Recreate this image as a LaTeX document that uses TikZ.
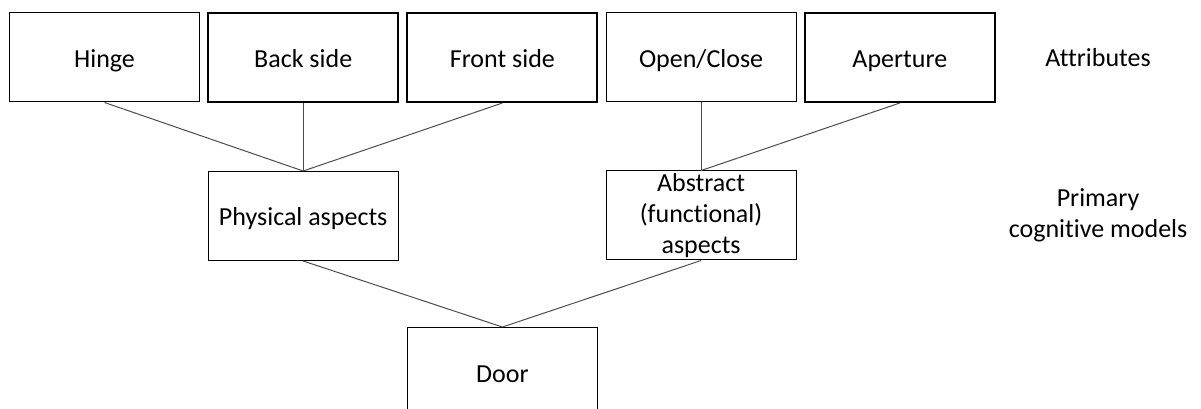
\documentclass[tikz,border=0pt]{standalone}
\usepackage{fontspec}
\setmainfont{Carlito}[Ligatures=NoCommon]
\usetikzlibrary{positioning}

\begin{document}
\begin{tikzpicture}[
    x=0.75pt, y=-0.75pt,
    node distance=51pt and 5.4pt,
    font=\fontsize{19.5}{23.4}\selectfont,
    % --- Style Definitions ---
    box/.style={
        rectangle, draw=black, line width=0.75pt,
        minimum width=142.5pt, minimum height=66.75pt,
        inner sep=0pt, align=center
    },
    onebox/.style={box, text height=15pt, text depth=0pt},
    thickbox/.style={onebox, line width=1.5pt},
    tag/.style={inner sep=0pt, align=center},
    link/.style={draw=black!70, line width=0.75pt}
]
\useasboundingbox (0,0) rectangle (1201,409);

% ================= Attributes =================
\node[onebox] (hinge) at (104.5,57.5) {Hinge};
\node[thickbox, right=of hinge] (back) {Back side};
\node[thickbox, right=of back] (front) {Front side};
\node[onebox, right=of front] (openclose) {Open/Close};
\node[thickbox, right=of openclose] (aperture) {Aperture};

% ================= Primary cognitive models =================
\node[onebox, below=of back] (physical) {Physical aspects};
\node[box, below=of openclose] (abstract) {Abstract\\(functional)\\aspects};

% ================= Door =================
\node[onebox, anchor=north] (door) at ([yshift=-49.5pt]front |- physical.south) {Door};

% ================= Level labels =================
\node[tag, right=37pt of aperture] (attr) {Attributes};
\node[tag] (primary) at (attr |- abstract) {Primary\\cognitive models};

% ================= Connections =================
\draw[link] (hinge.south) -- (physical.north);
\draw[link] (back.south) -- (physical.north);
\draw[link] (front.south) -- (physical.north);
\draw[link] (openclose.south) -- (abstract.north);
\draw[link] (aperture.south) -- (abstract.north);
\draw[link] (physical.south) -- (door.north);
\draw[link] (abstract.south) -- (door.north);

\end{tikzpicture}
\end{document}
